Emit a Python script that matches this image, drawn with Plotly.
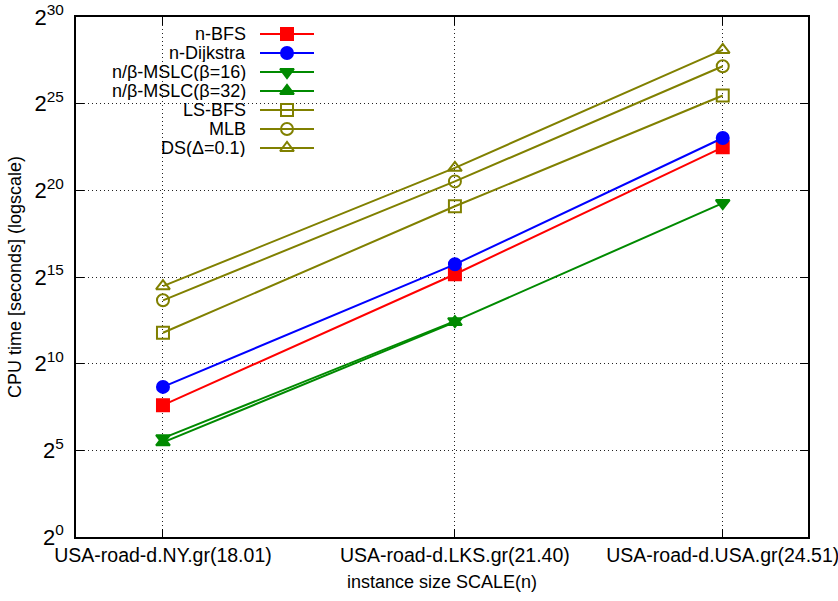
import math
import plotly.graph_objects as go

# ---------------- data ----------------
instances = ["USA-road-d.NY.gr(18.01)", "USA-road-d.LKS.gr(21.40)", "USA-road-d.USA.gr(24.51)"]
scale_n = [18.01, 21.40, 24.51]

n_bfs = [195, 36600, 5.85e6]
n_dijkstra = [404, 54400, 8.5e6]
mslc_16 = [52, 5600, 6.3e5]
mslc_32 = [44, 5400, None]
ls_bfs = [3520, 5.54e5, 4.65e7]
mlb = [12900, 1.50e6, 1.50e8]
ds_01 = [22700, 2.58e6, 2.88e8]

series_names = ["n-BFS", "n-Dijkstra", "n/β-MSLC(β=16)", "n/β-MSLC(β=32)", "LS-BFS", "MLB", "DS(Δ=0.1)"]
series_values = [n_bfs, n_dijkstra, mslc_16, mslc_32, ls_bfs, mlb, ds_01]

y_exponents = [0, 5, 10, 15, 20, 25, 30]
y_tickvals = [2 ** e for e in y_exponents]
y_ticktext = ["2<sup>%d</sup>" % e for e in y_exponents]

# ---------------- styles ----------------
RED, BLUE, GREEN, OLIVE = "#ff0000", "#0000ff", "#008a00", "#808000"
colors = [RED, BLUE, GREEN, GREEN, OLIVE, OLIVE, OLIVE]
symbols = ["square", "circle", "triangle-down", "triangle-up",
           "square-open", "circle-open", "triangle-up-open"]
msizes = [12, 12, 12, 12, 12, 12, 12]

FONT = "Liberation Sans, Arial, sans-serif"

W, H = 838, 601
ML, MR, MT, MB = 76, 30, 17, 64
PW, PH = W - ML - MR, H - MT - MB

fig = go.Figure()

for name, vals, c, s, ms in zip(series_names, series_values, colors, symbols, msizes):
    fig.add_trace(go.Scatter(
        x=scale_n, y=vals, name=name, mode="lines+markers",
        line=dict(color=c, width=2),
        marker=dict(symbol=s, size=ms, color=c, line=dict(color=c, width=2)),
        showlegend=False, connectgaps=False,
    ))

# ---------------- gnuplot-style key (text left, sample right) ----------------
def px_x(px):
    return (px - ML) / PW

def px_y(py):
    return (MT + PH - py) / PH

key_text_right = px_x(248)
key_line_x0, key_line_x1 = px_x(260), px_x(314)
key_row0, key_step = 34, 19

annotations = []
for i, (name, c, s, ms) in enumerate(zip(series_names, colors, symbols, msizes)):
    ry = px_y(key_row0 + i * key_step)
    fig.add_trace(go.Scatter(
        x=[key_line_x0, key_line_x1], y=[ry, ry], mode="lines",
        line=dict(color=c, width=2), xaxis="x2", yaxis="y2",
        showlegend=False, hoverinfo="skip"))
    fig.add_trace(go.Scatter(
        x=[(key_line_x0 + key_line_x1) / 2], y=[ry], mode="markers",
        marker=dict(symbol=s, size=ms, color=c, line=dict(color=c, width=2)),
        xaxis="x2", yaxis="y2", showlegend=False, hoverinfo="skip"))
    annotations.append(dict(
        x=key_text_right, y=ry, xref="x2", yref="y2", text=name,
        showarrow=False, xanchor="right", yanchor="middle", height=18,
        font=dict(family=FONT, size=18, color="black")))

GRID = dict(showgrid=True, gridcolor="#222222", griddash="1px,3px", gridwidth=1)

fig.update_layout(
    width=W, height=H,
    margin=dict(l=ML, r=MR, t=MT, b=MB, autoexpand=False),
    paper_bgcolor="white", plot_bgcolor="white",
    font=dict(family=FONT, size=18, color="black"),
    showlegend=False,
    annotations=annotations,
    shapes=[dict(type="rect", xref="paper", yref="paper",
                 x0=0, x1=px_x(325), y0=px_y(160), y1=1,
                 fillcolor="white", line=dict(width=0), layer="between")],
    xaxis=dict(
        type="linear", range=[17, 25.5], automargin=False,
        tickvals=scale_n, ticktext=instances, ticklabeloverflow="allow",
        tickfont=dict(size=19.5),
        ticks="inside", ticklen=8, tickcolor="black",
        showline=True, linecolor="black", linewidth=1.5, mirror="ticks",
        zeroline=False,
        title=dict(text="instance size SCALE(n)", font=dict(size=18), standoff=10),
        **GRID,
    ),
    yaxis=dict(
        type="log", range=[0, 30 * math.log10(2)], automargin=False,
        tickvals=y_tickvals, ticktext=y_ticktext, ticklabeloverflow="allow",
        tickfont=dict(size=22), ticklabelstandoff=6,
        ticks="inside", ticklen=8, tickcolor="black",
        showline=True, linecolor="black", linewidth=1.5, mirror="ticks",
        zeroline=False,
        title=dict(text="CPU time [seconds] (logscale)", font=dict(size=18), standoff=8),
        **GRID,
    ),
    xaxis2=dict(overlaying="x", range=[0, 1], visible=False, anchor="y2"),
    yaxis2=dict(overlaying="y", range=[0, 1], visible=False, anchor="x2"),
)

fig.write_html("out.html", config={"displayModeBar": False},
               post_script="document.body.style.margin='0';")
